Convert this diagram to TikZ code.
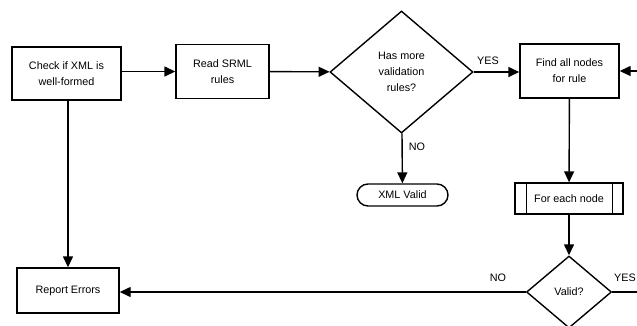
\documentclass[tikz,border=0pt]{standalone}
\usepackage{fontspec}
\setmainfont{Liberation Sans}
\usetikzlibrary{arrows.meta,shapes.geometric,shapes.misc}

\tikzset{
	flow/.style = {line width = 1.4pt, -{Triangle[length = 11pt, width = 10pt]}},
	plain/.style = {line width = 1.4pt},
	box/.style = {draw, line width = 1.4pt, align = center, inner sep = 0pt},
	choice/.style = {draw, diamond, line width = 1.4pt, align = center, inner sep = 0pt},
	lbl/.style = {inner sep = 0pt}
}

\begin{document}
\begin{tikzpicture}[x = 1pt, y = -1pt, font = \fontsize{10.8}{16}\selectfont]
						\useasboundingbox (0, 0) rectangle (637, 325);
						\clip (0, 0) rectangle (637, 325);

						\node [box, minimum width = 109pt, minimum height = 53pt] (check) at (66.5, 73.5) {Check if XML is\\well-formed};
						\node [box, minimum width = 93pt, minimum height = 54pt] (read) at (222.5, 71.5) {Read SRML\\rules};
						\node [choice, minimum width = 143pt, minimum height = 122pt] (more) at (401.5, 72) {Has more\\validation\\rules?};
						\node [box, minimum width = 99pt, minimum height = 54pt] (find) at (569.5, 71) {Find all nodes\\for rule};
						\node [box, rounded rectangle, minimum width = 91pt, minimum height = 22pt] (ok) at (402.5, 195) {XML Valid};
						\node [box, minimum width = 108pt, minimum height = 31pt] (each) at (569, 198.5) {For each node};
						\node [choice, minimum width = 85pt, minimum height = 72pt] (valid) at (569, 292) {Valid?};
						\node [box, minimum width = 102pt, minimum height = 45pt] (report) at (68, 290.5) {Report Errors};

						\coordinate (back) at (660, 71);
						\coordinate (out) at (660, 292);

						\draw [plain] ([xshift = 12pt] each.north west) -- ([xshift = 12pt] each.south west);
						\draw [plain] ([xshift = -11pt] each.north east) -- ([xshift = -11pt] each.south east);

						\draw [flow] (check.east |- read.west) -- (read.west);
						\draw [flow] (read) -- (more);
						\draw [flow] (more.east) -- (find.west |- more.east);
						\draw [flow] (more) -- (ok);
						\draw [flow] (back) -- (find.east);
						\draw [flow] (find) -- (each);
						\draw [flow] (each) -- (valid);
						\draw [flow] (valid.west) -- (report.east |- valid.west);
						\draw [flow] (check.south -| report.north) -- (report.north);
						\draw [plain] (valid.east) -- (out);

						\node [lbl] at (488, 61) {YES};
						\node [lbl] at (417, 147) {NO};
						\node [lbl] at (498, 278) {NO};
						\node [lbl, anchor = east] at (636, 278) {YES};
					\end{tikzpicture}
\end{document}
